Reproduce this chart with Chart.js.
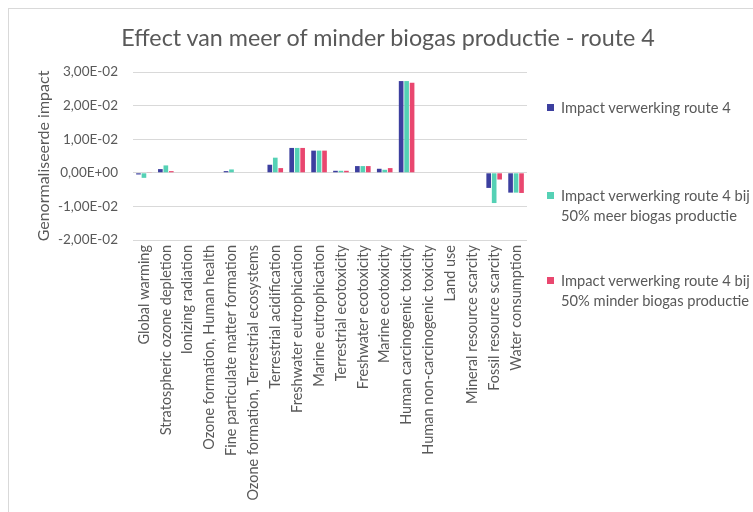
<!DOCTYPE html>
<html>
<head>
<meta charset="utf-8">
<script src="https://cdn.jsdelivr.net/npm/chart.js@4"></script>
<style>
  html, body { margin: 0; padding: 0; background: #fff; overflow: hidden; }
  #wrap { position: relative; width: 753px; height: 512px; }
  #frame { position: absolute; left: 8px; top: 8px; width: 780px; height: 540px; border: 1px solid #d9d9d9; }
  #c { position: absolute; left: 0; top: 0; }
  #title { position: absolute; left: 0; width: 776px; top: 23px; text-align: center;
           font-family: Lato, sans-serif; font-size: 23.3px; color: #595959; }
  .leg { position: absolute; left: 547px; font-family: Lato, sans-serif; font-size: 14.7px;
         color: #595959; line-height: 20px; }
  .leg i { position: absolute; left: 0; top: 7px; width: 7px; height: 7px; }
  .leg span { display: block; margin-left: 14px; white-space: nowrap; }
</style>
</head>
<body>
<div id="wrap">
  <div id="frame"></div>
  <canvas id="c" width="753" height="512"></canvas>
  <div id="title">Effect van meer of minder biogas productie - route 4</div>
  <div id="legend"></div>
</div>
<script>
const categories = [
  "Global warming",
  "Stratospheric ozone depletion",
  "Ionizing radiation",
  "Ozone formation, Human health",
  "Fine particulate matter formation",
  "Ozone formation, Terrestrial ecosystems",
  "Terrestrial acidification",
  "Freshwater eutrophication",
  "Marine eutrophication",
  "Terrestrial ecotoxicity",
  "Freshwater ecotoxicity",
  "Marine ecotoxicity",
  "Human carcinogenic toxicity",
  "Human non-carcinogenic toxicity",
  "Land use",
  "Mineral resource scarcity",
  "Fossil resource scarcity",
  "Water consumption"
];

const route4 = [-0.0005, 0.0011, 0, 0, 0.0005, 0, 0.0024, 0.0074, 0.0066, 0.0006, 0.0020, 0.0012, 0.0273, 0, 0, 0, -0.0045, -0.0059];
const route4Meer = [-0.0015, 0.0022, 0, 0, 0.0010, 0, 0.0045, 0.0074, 0.0066, 0.0006, 0.0020, 0.0009, 0.0273, 0, 0, 0, -0.0090, -0.0059];
const route4Minder = [0.0001, 0.0005, 0, 0, 0, 0, 0.0014, 0.0074, 0.0066, 0.0006, 0.0020, 0.0014, 0.0268, 0, 0, 0, -0.0020, -0.0060];

const seriesNames = [
  ["Impact verwerking route 4"],
  ["Impact verwerking route 4 bij", "50% meer biogas productie"],
  ["Impact verwerking route 4 bij", "50% minder biogas productie"]
];
const seriesColors = ['#3c3f9f', '#55d1b5', '#e9476f'];

const yTicks = [-0.02, -0.01, 0, 0.01, 0.02, 0.03];

function sciComma(v) {
  if (Math.abs(v) < 1e-12) v = 0;
  let s = v.toExponential(2);          // e.g. 3.00e-2
  let parts = s.split('e');
  let exp = parseInt(parts[1], 10);
  let sign = exp < 0 ? '-' : '+';
  let e = String(Math.abs(exp)).padStart(2, '0');
  return parts[0].replace('.', ',') + 'E' + sign + e;
}

// legend (html, multi-line labels)
const legendTops = [97, 185, 270];
const legend = document.getElementById('legend');
seriesNames.forEach((lines, i) => {
  const d = document.createElement('div');
  d.className = 'leg';
  d.style.top = legendTops[i] + 'px';
  d.innerHTML = '<i style="background:' + seriesColors[i] + '"></i>' +
    lines.map(l => '<span>' + l + '</span>').join('');
  legend.appendChild(d);
});

const ctx = document.getElementById('c');

const data = {
  labels: categories,
  datasets: [
    { label: seriesNames[0].join(' '), data: route4, backgroundColor: seriesColors[0] },
    { label: seriesNames[1].join(' '), data: route4Meer, backgroundColor: seriesColors[1] },
    { label: seriesNames[2].join(' '), data: route4Minder, backgroundColor: seriesColors[2] }
  ]
};

const config = {
  type: 'bar',
  data: data,
  options: {
    responsive: false,
    animation: false,
    categoryPercentage: 0.75,
    barPercentage: 0.85,
    layout: { padding: { left: 30, right: 226, top: 72, bottom: 0 } },
    plugins: {
      legend: { display: false },
      tooltip: { enabled: false }
    },
    scales: {
      x: {
        grid: { display: false, drawTicks: false },
        border: { display: false },
        ticks: {
          autoSkip: false,
          minRotation: 90,
          maxRotation: 90,
          padding: 5,
          color: '#595959',
          font: { family: 'Lato', size: 14.5 }
        },
        afterFit: function (scale) { scale.height = 272; }
      },
      y: {
        min: -0.02,
        max: 0.03,
        afterBuildTicks: function (scale) {
          scale.ticks = yTicks.map(v => ({ value: v }));
        },
        grid: { color: '#d9d9d9', drawTicks: false },
        border: { display: false },
        ticks: {
          padding: 15,
          color: '#595959',
          font: { family: 'Lato', size: 13.5 },
          callback: function (v) { return sciComma(v); }
        },
        title: {
          display: true,
          text: 'Genormaliseerde impact',
          color: '#595959',
          font: { family: 'Lato', size: 16 }
        },
        afterFit: function (scale) { scale.width = 103; }
      }
    }
  }
};

const myChart = new Chart(ctx, config);
</script>
</body>
</html>
